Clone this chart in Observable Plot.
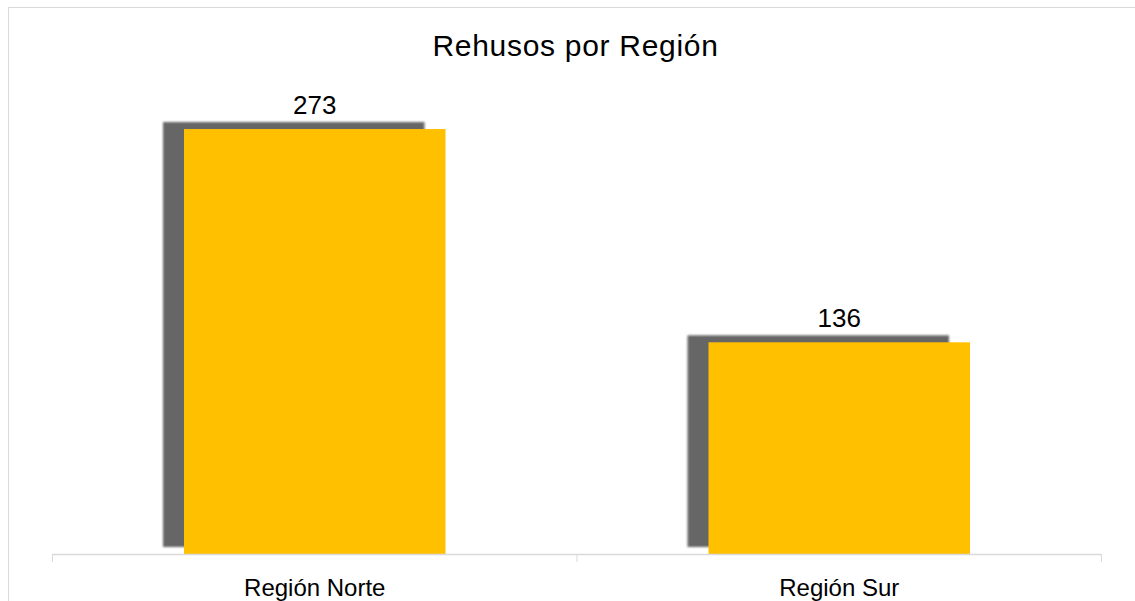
<!DOCTYPE html>
<html>
<head>
<meta charset="utf-8">
<script src="https://cdn.jsdelivr.net/npm/d3@7"></script>
<script src="https://cdn.jsdelivr.net/npm/@observablehq/plot@0.6"></script>
<style>
  html, body { margin: 0; padding: 0; background: #fff; }
  #wrap { position: relative; width: 1135px; height: 601px; overflow: hidden; font-family: "Liberation Sans", Arial, sans-serif; }
  #frame { position: absolute; left: 8px; top: 7px; width: 1200px; height: 700px; border: 1px solid #d9d9d9; box-sizing: border-box; pointer-events: none; }
  #title { position: absolute; left: 8px; width: 1135px; top: 29px; text-align: center; font-size: 30px; letter-spacing: 0.7px; color: #000; line-height: 34px; }
  #chart { position: absolute; left: 0; top: 0; }
</style>
</head>
<body>
<div id="wrap">
  <div id="frame"></div>
  <div id="chart"></div>
  <div id="title">Rehusos por Región</div>
</div>
<script>
const categories = ["Región Norte", "Región Sur"];
const values = [273, 136];

const data = categories.map((c, i) => ({ region: c, idx: i, value: values[i] }));

const plot = Plot.plot({
  width: 1135,
  height: 601,
  marginLeft: 52,
  marginRight: 34,
  marginTop: 87,
  marginBottom: 47,
  style: { fontFamily: "Liberation Sans, Arial, sans-serif", background: "transparent", overflow: "visible" },
  x: { type: "linear", domain: [0, categories.length], axis: null },
  y: { domain: [0, 300], axis: null },
  marks: [
    Plot.rectY(data, {
      x1: d => d.idx, x2: d => d.idx + 1, y: "value",
      insetLeft: 132, insetRight: 131,
      dx: -21, dy: -7, fill: "#666666"
    }),
    Plot.rectY(data, {
      x1: d => d.idx, x2: d => d.idx + 1, y: "value",
      insetLeft: 132, insetRight: 131,
      fill: "#FFC000"
    }),
    Plot.ruleY([0], { stroke: "#d9d9d9", strokeWidth: 1.5 }),
    Plot.tickX(d3.range(categories.length + 1), { x: d => d, y1: 0, y2: 0, stroke: "#d9d9d9" }),
    Plot.text(data, {
      x: d => d.idx + 0.5, y: "value", text: d => String(d.value),
      dy: -24, fontSize: 26, fill: "#000"
    }),
    Plot.text(data, {
      x: d => d.idx + 0.5, text: "region", frameAnchor: "bottom",
      dy: 41, fontSize: 24, fill: "#000"
    })
  ]
});

const svg = d3.select(plot);
const defs = svg.insert("defs", ":first-child");
defs.append("filter").attr("id", "shadowBlur").attr("x", "-10%").attr("y", "-10%").attr("width", "120%").attr("height", "120%")
  .append("feGaussianBlur").attr("stdDeviation", 1.2);
svg.select('g[aria-label="rect"]').attr("filter", "url(#shadowBlur)");
svg.selectAll('g[aria-label="tick"] line').each(function() {
  this.setAttribute("y1", 554);
  this.setAttribute("y2", 562);
});

document.getElementById("chart").appendChild(plot);
</script>
</body>
</html>
